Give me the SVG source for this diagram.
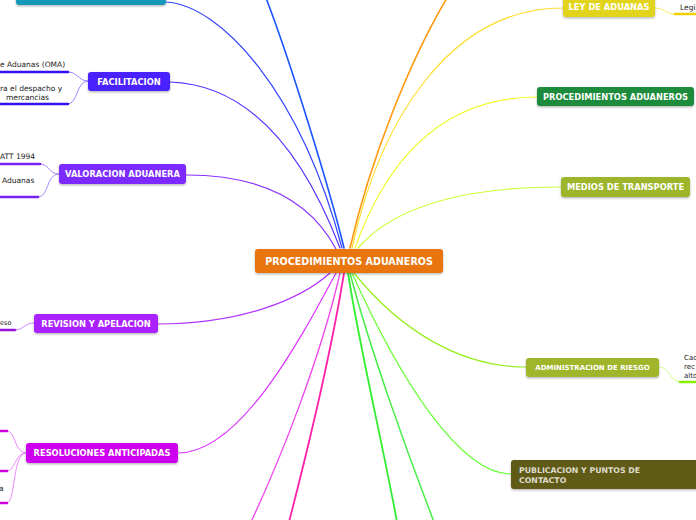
<svg xmlns="http://www.w3.org/2000/svg" width="696" height="520" viewBox="0 0 696 520">
<defs>
<filter id="sh" x="-10%" y="-30%" width="120%" height="170%">
<feDropShadow dx="0" dy="1.2" stdDeviation="1" flood-color="#000" flood-opacity="0.3"/>
</filter>
<style>
.n{filter:url(#sh)}
.t{font-family:"DejaVu Sans",Verdana,sans-serif;font-weight:bold;font-size:8.3px;fill:#fff}
.s{font-family:"DejaVu Sans",Verdana,sans-serif;font-size:7.5px;fill:#222}
.c{fill:none;stroke-linecap:round}
</style>
</defs>
<rect width="696" height="520" fill="#fff"/>
<g id="connectors">
<path class="c" d="M166,2 C220,5 300,90 342,248" stroke="#3344ff" stroke-width="1.2"/>
<path class="c" d="M266,-2 C290,60 330,190 344,248" stroke="#1a55ff" stroke-width="1.6"/>
<path class="c" d="M170,82 C260,85 310,170 340,248" stroke="#5533ff" stroke-width="1.2"/>
<path class="c" d="M186,175 C260,175 310,200 336,249" stroke="#8833ff" stroke-width="1.2"/>
<path class="c" d="M158,324 C240,324 300,300 330,273" stroke="#b033ff" stroke-width="1.2"/>
<path class="c" d="M178,453 C240,453 300,340 336,273" stroke="#dd33ff" stroke-width="1.2"/>
<path class="c" d="M340,273 C320,360 280,460 251,522" stroke="#ee44ee" stroke-width="1.3"/>
<path class="c" d="M344,273 C330,360 305,460 289,522" stroke="#ff22aa" stroke-width="1.8"/>
<path class="c" d="M348,273 C360,350 382,440 397,522" stroke="#33ee33" stroke-width="1.8"/>
<path class="c" d="M350,273 C370,350 410,460 434,522" stroke="#44ee44" stroke-width="1.5"/>
<path class="c" d="M352,273 C400,380 460,474 511,474" stroke="#66ff33" stroke-width="1.2"/>
<path class="c" d="M354,273 C400,330 460,367 526,367" stroke="#99ee22" stroke-width="1.2"/>
<path class="c" d="M358,248 C400,200 480,187 561,187" stroke="#ccff33" stroke-width="1.2"/>
<path class="c" d="M355,248 C390,150 450,97 537,97" stroke="#eeff33" stroke-width="1.2"/>
<path class="c" d="M352,248 C380,120 450,8 563,8" stroke="#ffdd33" stroke-width="1.2"/>
<path class="c" d="M350,248 C370,160 410,60 447,-2" stroke="#ff9911" stroke-width="1.6"/>
<path class="c" d="M88,81 C78,81 78,72 68,72" stroke="#9988ff" stroke-width="1"/>
<path class="c" d="M68,72 L0,72" stroke="#3311ee" stroke-width="2.5"/>
<path class="c" d="M88,81 C76,81 78,104 68,104" stroke="#9988ff" stroke-width="1"/>
<path class="c" d="M68,104 L0,104" stroke="#3311ee" stroke-width="2.5"/>
<path class="c" d="M59,174 C48,174 50,164 40,164" stroke="#aa88ff" stroke-width="1"/>
<path class="c" d="M40,164 L0,164" stroke="#7722ee" stroke-width="2.5"/>
<path class="c" d="M59,174 C45,174 50,197 38,197" stroke="#aa88ff" stroke-width="1"/>
<path class="c" d="M38,197 L0,197" stroke="#7722ee" stroke-width="2.5"/>
<path class="c" d="M34,323 C24,323 24,330 15,330" stroke="#cc88ff" stroke-width="1"/>
<path class="c" d="M15,330 L0,330" stroke="#9911dd" stroke-width="2.5"/>
<path class="c" d="M26,453 C14,453 16,431 7,431" stroke="#ee88ff" stroke-width="1"/>
<path class="c" d="M7,431 L0,431" stroke="#cc00dd" stroke-width="2.5"/>
<path class="c" d="M26,453 C14,453 16,471 7,471" stroke="#ee88ff" stroke-width="1"/>
<path class="c" d="M7,471 L0,471" stroke="#cc00dd" stroke-width="2.5"/>
<path class="c" d="M26,453 C12,453 16,503 7,503" stroke="#ee88ff" stroke-width="1"/>
<path class="c" d="M7,503 L0,503" stroke="#cc00dd" stroke-width="2.5"/>
<path class="c" d="M655,8 C665,8 665,14 675,14" stroke="#ffee66" stroke-width="1"/>
<path class="c" d="M675,14 L696,14" stroke="#f0d000" stroke-width="2.5"/>
<path class="c" d="M659,367 C670,367 670,382 680,382" stroke="#ccff88" stroke-width="1"/>
<path class="c" d="M680,382 L696,382" stroke="#88ee00" stroke-width="2.5"/>
</g>
<g id="top-node"><rect class="n" x="16" y="-20" width="150" height="25" rx="3" fill="#1899b8"/></g>
<g id="facilitacion">
<rect class="n" x="88" y="72" width="82" height="19" rx="3" fill="#4a22ff"/>
<text class="t" x="129" y="84.5" text-anchor="middle">FACILITACION</text>
<text class="s" x="0" y="67">e Aduanas (OMA)</text>
<text class="s" x="0" y="91">ra el despacho y</text>
<text class="s" x="6" y="100">mercancias</text>
</g>
<g id="valoracion">
<rect class="n" x="59" y="164" width="127" height="20" rx="3" fill="#7b2bff"/>
<text class="t" x="122.5" y="177" text-anchor="middle">VALORACION ADUANERA</text>
<text class="s" x="0" y="159">ATT 1994</text>
<text class="s" x="2" y="183">Aduanas</text>
</g>
<g id="revision">
<rect class="n" x="34" y="314" width="124" height="19" rx="3" fill="#aa22ff"/>
<text class="t" x="96" y="326.5" text-anchor="middle">REVISION Y APELACION</text>
<text class="s" x="0" y="325" style="font-size:6.5px">eso</text>
</g>
<g id="resoluciones">
<rect class="n" x="26" y="443" width="152" height="20" rx="3" fill="#cc00ee"/>
<text class="t" x="102" y="456" text-anchor="middle">RESOLUCIONES ANTICIPADAS</text>
<text class="s" x="-1" y="491">a</text>
</g>
<g id="central">
<rect class="n" x="255" y="249" width="188" height="24" rx="3" fill="#e8750f"/>
<text class="t" x="349" y="264.5" text-anchor="middle" style="font-size:9.6px">PROCEDIMIENTOS ADUANEROS</text>
</g>
<g id="ley">
<rect class="n" x="563" y="-3" width="92" height="20" rx="3" fill="#e2d41e"/>
<text class="t" x="609" y="10" text-anchor="middle">LEY DE ADUANAS</text>
<text class="s" x="680" y="10">Legi</text>
</g>
<g id="procedimientos">
<rect class="n" x="537" y="87" width="157" height="19" rx="3" fill="#1e8b3a"/>
<text class="t" x="615.5" y="99.5" text-anchor="middle">PROCEDIMIENTOS ADUANEROS</text>
</g>
<g id="medios">
<rect class="n" x="561" y="177" width="129" height="20" rx="3" fill="#9db52c"/>
<text class="t" x="625.5" y="190" text-anchor="middle">MEDIOS DE TRANSPORTE</text>
</g>
<g id="administracion">
<rect class="n" x="526" y="358" width="133" height="19" rx="3" fill="#a0b52c"/>
<text class="t" x="592.5" y="370" text-anchor="middle" style="font-size:7px">ADMINISTRACION DE RIESGO</text>
<text class="s" x="684" y="360" style="font-size:7px">Cad</text>
<text class="s" x="684" y="369" style="font-size:7px">rec</text>
<text class="s" x="684" y="378" style="font-size:7px">alto</text>
</g>
<g id="publicacion">
<rect class="n" x="511" y="460" width="195" height="29" rx="3" fill="#5e5a16"/>
<text class="t" x="519" y="472.5" style="font-size:7.8px;fill:#dddccc">PUBLICACION Y PUNTOS DE</text>
<text class="t" x="519" y="482.5" style="font-size:7.8px;fill:#dddccc">CONTACTO</text>
</g>
</svg>
